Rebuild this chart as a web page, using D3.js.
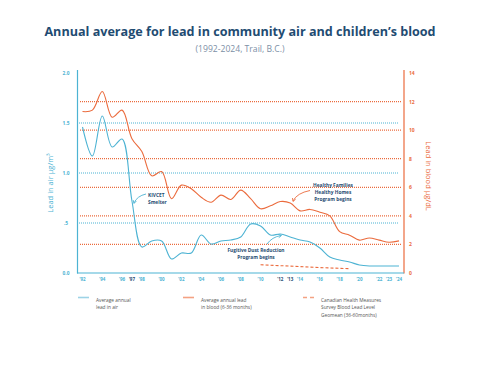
<!DOCTYPE html>
<html>
<head>
<meta charset="utf-8">
<script src="https://cdn.jsdelivr.net/npm/d3@7"></script>
<style>
  body { margin: 0; background: #fff; }
  svg { font-family: "Open Sans", sans-serif; }
</style>
</head>
<body>
<script>
// data
var years = d3.range(1992, 2025);
var airLead = [1.46, 1.17, 1.57, 1.26, 1.34, 0.72, 0.26, 0.32, 0.32, 0.14, 0.20, 0.20, 0.38, 0.29,
  0.32, 0.33, 0.36, 0.49, 0.47, 0.38, 0.39, 0.36, 0.33, 0.31, 0.25, 0.16, 0.13, 0.11, 0.08, 0.07, 0.07, 0.07, 0.07];
var bloodLead = [11.3, 11.4, 12.7, 10.9, 11.4, 9.4, 8.5, 6.8, 7.1, 5.2, 6.15, 5.9, 5.3, 4.95,
  5.45, 5.15, 5.8, 5.2, 4.5, 4.7, 5.0, 4.9, 4.35, 4.45, 4.25, 4.0, 2.9, 2.65, 2.3, 2.45, 2.3, 2.15, 2.25];
var chmsYears = [2010, 2013, 2016, 2019];
var chmsLead = [0.58, 0.48, 0.38, 0.3];

var airTicks = [0, 0.5, 1.0, 1.5, 2.0];
var airTickLabels = ["0.0", ".5", "1.0", "1.5", "2.0"];
var bloodTicks = [0, 2, 4, 6, 8, 10, 12, 14];
var yearTicks = [1992, 1994, 1996, 1997, 1998, 2000, 2002, 2004, 2006, 2008, 2010, 2012, 2013, 2014, 2016, 2018, 2020, 2022, 2023, 2024];
var boldYears = [1997, 2012, 2013];

var blue = "#4db3d3", orange = "#eb6b3d", navy = "#1f4c72";

var svg = d3.select("body").append("svg").attr("width", 481).attr("height", 372);

var x = d3.scaleLinear().domain([1992, 2024]).range([82.5, 399]);
var yAir = d3.scaleLinear().domain([0, 2]).range([273, 73]);
var yBlood = d3.scaleLinear().domain([0, 14]).range([273, 73]);

// title
svg.append("text").attr("x", 240).attr("y", 36).attr("text-anchor", "middle")
  .attr("font-size", 12.6).attr("font-weight", 700).attr("fill", navy)
  .text("Annual average for lead in community air and children\u2019s blood");
svg.append("text").attr("x", 240).attr("y", 52).attr("text-anchor", "middle")
  .attr("font-size", 8.6).attr("fill", "#7c8fa6")
  .text("(1992-2024, Trail, B.C.)");

// gridlines
svg.selectAll(".gb").data([0.5, 1.0, 1.5]).enter().append("line")
  .attr("x1", 79).attr("x2", 399)
  .attr("y1", function(d) { return yAir(d); }).attr("y2", function(d) { return yAir(d); })
  .attr("stroke", blue).attr("stroke-width", 1.2).attr("stroke-dasharray", "1,1");
svg.selectAll(".go").data([2, 4, 6, 8, 10, 12]).enter().append("line")
  .attr("x1", 80).attr("x2", 401)
  .attr("y1", function(d) { return yBlood(d); }).attr("y2", function(d) { return yBlood(d); })
  .attr("stroke", orange).attr("stroke-width", 1.2).attr("stroke-dasharray", "1,1");

// axes lines
svg.append("line").attr("x1", 77.5).attr("x2", 77.5).attr("y1", 70).attr("y2", 273.5)
  .attr("stroke", blue).attr("stroke-width", 1.2);
svg.append("line").attr("x1", 404).attr("x2", 404).attr("y1", 70).attr("y2", 273.5)
  .attr("stroke", orange).attr("stroke-width", 1.2);
svg.append("line").attr("x1", 77).attr("x2", 404).attr("y1", 273).attr("y2", 273)
  .attr("stroke", blue).attr("stroke-width", 1.2);

// tick labels
svg.selectAll(".ta").data(airTicks).enter().append("text")
  .attr("x", 66).attr("y", function(d) { return yAir(d) + 2; })
  .attr("text-anchor", "middle").attr("font-size", 4.8).attr("font-weight", 700).attr("fill", blue)
  .text(function(d, i) { return airTickLabels[i]; });
svg.selectAll(".tb").data(bloodTicks).enter().append("text")
  .attr("x", 409).attr("y", function(d) { return yBlood(d) + 2; })
  .attr("font-size", 5).attr("font-weight", 700).attr("fill", orange)
  .text(function(d) { return d; });
svg.selectAll(".tx").data(yearTicks).enter().append("text")
  .attr("x", function(d) { return x(d); }).attr("y", 281)
  .attr("text-anchor", "middle").attr("font-size", 4.5).attr("font-weight", 700)
  .attr("fill", function(d) { return boldYears.indexOf(d) >= 0 ? navy : blue; })
  .text(function(d) { return "\u2019" + String(d).slice(2); });

// axis titles
svg.append("text").attr("transform", "translate(53,183) rotate(-90)")
  .attr("text-anchor", "middle").attr("font-size", 7.5).attr("fill", blue)
  .text("Lead in air  \u00b5g/m\u00b3");
svg.append("text").attr("transform", "translate(426,176) rotate(90)")
  .attr("text-anchor", "middle").attr("font-size", 7.5).attr("fill", orange)
  .text("Lead in blood \u00b5g/dL");

// lines
var airLine = d3.line().curve(d3.curveCatmullRom)
  .x(function(d, i) { return x(years[i]); }).y(function(d) { return yAir(d); });
var bloodLine = d3.line().curve(d3.curveCatmullRom)
  .x(function(d, i) { return x(years[i]); }).y(function(d) { return yBlood(d); });
var chmsLine = d3.line()
  .x(function(d, i) { return x(chmsYears[i]); }).y(function(d) { return yBlood(d); });

svg.append("path").attr("d", bloodLine(bloodLead)).attr("fill", "none")
  .attr("stroke", orange).attr("stroke-width", 1.1);
svg.append("path").attr("d", airLine(airLead)).attr("fill", "none")
  .attr("stroke", blue).attr("stroke-width", 1.1);
svg.append("path").attr("d", chmsLine(chmsLead)).attr("fill", "none")
  .attr("stroke", orange).attr("stroke-width", 1.1).attr("stroke-dasharray", "3,2");

// annotations
function arrowHead(tx, ty, ang, col) {
  var a = ang * Math.PI / 180, l = 3.5;
  var p1 = [tx - l * Math.cos(a - 0.5), ty - l * Math.sin(a - 0.5)];
  var p2 = [tx - l * Math.cos(a + 0.5), ty - l * Math.sin(a + 0.5)];
  svg.append("path").attr("d", "M" + p1 + "L" + tx + "," + ty + "L" + p2)
    .attr("fill", "none").attr("stroke", col).attr("stroke-width", 0.9);
}
function note(lines, cx, y0, anchor) {
  var t = svg.append("text").attr("x", cx).attr("y", y0).attr("text-anchor", anchor)
    .attr("font-size", 4.8).attr("font-weight", 700).attr("fill", navy);
  lines.forEach(function(s, i) {
    t.append("tspan").attr("x", cx).attr("dy", i ? 7 : 0).text(s);
  });
}
note(["KIVCET", "Smelter"], 148, 197, "start");
svg.append("path").attr("d", "M146,194 Q137,196 134,203").attr("fill", "none")
  .attr("stroke", blue).attr("stroke-width", 0.9);
arrowHead(134, 203.5, 105, blue);

note(["Fugitive Dust Reduction", "Program begins"], 256, 251.5, "middle");
svg.append("path").attr("d", "M267,244 Q272,237 281,235.5").attr("fill", "none")
  .attr("stroke", blue).attr("stroke-width", 0.9);
arrowHead(281.5, 235.5, -10, blue);

note(["Healthy Families", "Healthy Homes", "Program begins"], 333, 187, "middle");
svg.append("path").attr("d", "M310,190.5 Q297,193 293,201").attr("fill", "none")
  .attr("stroke", orange).attr("stroke-width", 0.9);
arrowHead(293, 201.5, 110, orange);

// legend
var legend = [
  { x: 78, lines: ["Average annual", "lead in air"], col: "#9dd3e6", dash: null },
  { x: 183, lines: ["Average annual lead", "in blood (6-36 months)"], col: "#f4a283", dash: null },
  { x: 303, lines: ["Canadian Health Measures", "Survey Blood Lead Level", "Geomean (36-60months)"], col: "#f4a283", dash: "4,3" }
];
legend.forEach(function(d) {
  svg.append("line").attr("x1", d.x).attr("x2", d.x + 11).attr("y1", 297.5).attr("y2", 297.5)
    .attr("stroke", d.col).attr("stroke-width", 1.6).attr("stroke-dasharray", d.dash);
  var t = svg.append("text").attr("x", d.x + 18).attr("y", 301.5)
    .attr("font-size", 4.8).attr("fill", "#555");
  d.lines.forEach(function(s, i) {
    t.append("tspan").attr("x", d.x + 18).attr("dy", i ? 7.5 : 0).text(s);
  });
});
</script>
</body>
</html>
